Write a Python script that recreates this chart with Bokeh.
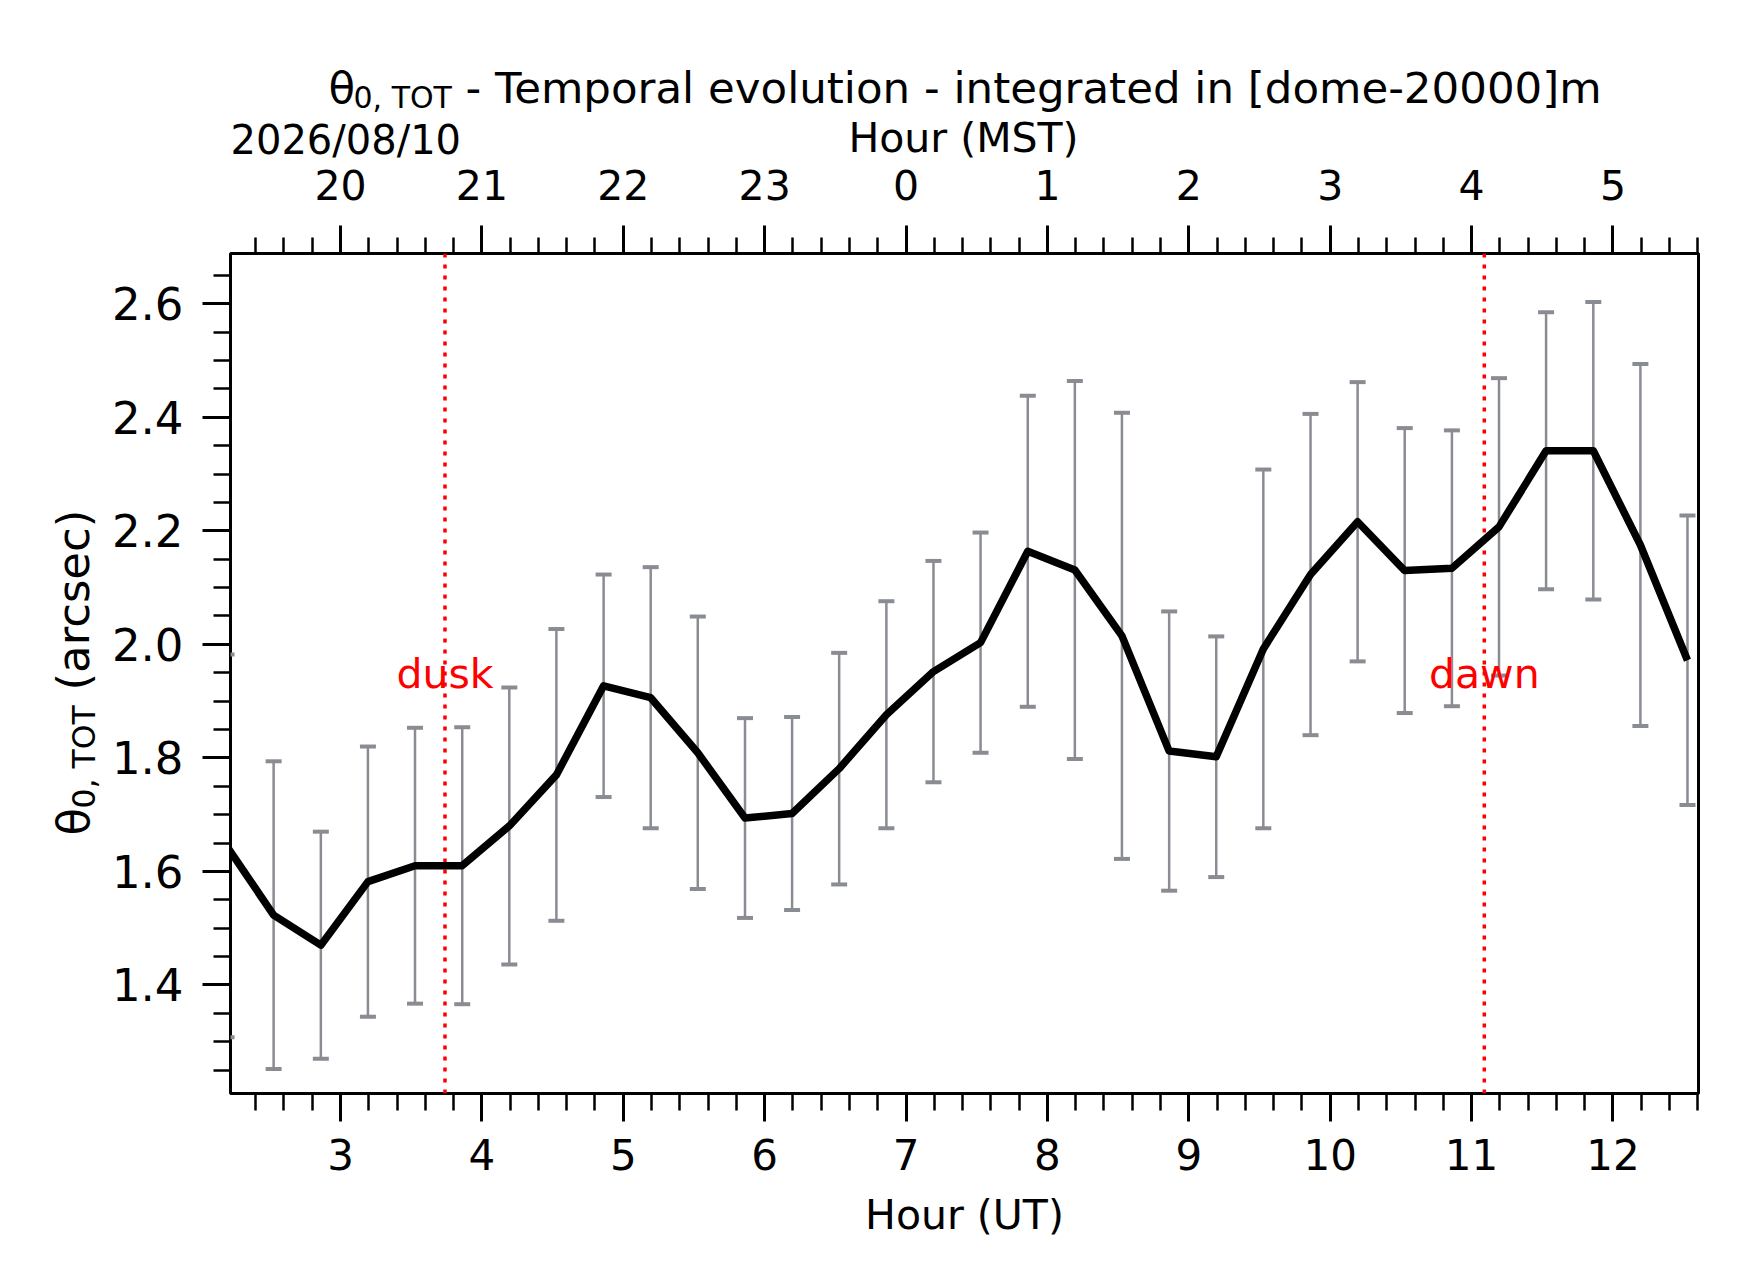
import numpy as np
from bokeh.plotting import figure
from bokeh.layouts import column, row
from bokeh.models import (ColumnDataSource, FixedTicker, LinearAxis, Range1d,
                          Span, PrintfTickFormatter)
from bokeh.embed import file_html
from bokeh.resources import INLINE
from bokeh.core.properties import value

# ---------------- data ----------------
ut_hours = [2.194, 2.527, 2.861, 3.194, 3.527, 3.861, 4.194, 4.527, 4.861, 5.194,
            5.527, 5.861, 6.194, 6.527, 6.861, 7.194, 7.527, 7.861, 8.194, 8.527,
            8.861, 9.194, 9.527, 9.861, 10.194, 10.527, 10.861, 11.194, 11.527,
            11.861, 12.194, 12.527]
theta0 = [1.645, 1.523, 1.470, 1.582, 1.610, 1.610, 1.680, 1.770, 1.927, 1.906,
          1.809, 1.694, 1.702, 1.781, 1.876, 1.952, 2.003, 2.164, 2.131, 2.015,
          1.812, 1.802, 1.992, 2.123, 2.216, 2.130, 2.134, 2.207, 2.341, 2.341,
          2.175, 1.972]
theta0_std = [0.337, 0.271, 0.200, 0.238, 0.243, 0.244, 0.244, 0.257, 0.196, 0.230,
              0.240, 0.176, 0.170, 0.204, 0.200, 0.195, 0.194, 0.274, 0.333, 0.393,
              0.246, 0.212, 0.316, 0.283, 0.246, 0.251, 0.243, 0.262, 0.244, 0.262,
              0.319, 0.255]
event_hours = [3.739, 11.09]
event_names = ["dusk", "dawn"]
ut_ticks = [3, 4, 5, 6, 7, 8, 9, 10, 11, 12]
mst_tick_labels = ["20", "21", "22", "23", "0", "1", "2", "3", "4", "5"]
y_ticks = [1.4, 1.6, 1.8, 2.0, 2.2, 2.4, 2.6]
date_text = "2026/08/10"
title_symbol = "\u03b8"
title_sub = "0, TOT"
title_main = "- Temporal evolution - integrated in [dome-20000]m"
ylabel_rest = "(arcsec)"
xlabel_bottom = "Hour (UT)"
xlabel_top = "Hour (MST)"

FONT = "DejaVu Sans"
GRAY = "#8a8c93"
RED = "#ff0000"
BASE_SHIFT = 0.33   # compensation of the text baseline placement (in em)

lower = [m - s for m, s in zip(theta0, theta0_std)]
upper = [m + s for m, s in zip(theta0, theta0_std)]
src = ColumnDataSource(dict(t=ut_hours, v=theta0, lo=lower, hi=upper))

x_minor = [round(v, 2) for v in np.arange(2.4, 12.61, 0.2) if abs(v - round(v)) > 1e-6]
y_minor = [round(v, 2) for v in np.arange(1.25, 2.70, 0.05)
           if min(abs(v - t) for t in y_ticks) > 1e-6]

# layout geometry (pixels)
TOP_H = 163
LEFT_W = 108
FR_W, FR_H = 1468, 840
B_L, B_R, B_T, B_B = 230 - LEFT_W, 36, 90, 181
P_W = B_L + FR_W + B_R

# ---------------- main plot ----------------
p = figure(frame_width=FR_W, frame_height=FR_H,
           min_border_left=B_L, min_border_right=B_R,
           min_border_top=B_T, min_border_bottom=B_B,
           x_range=Range1d(2.222, 12.605), y_range=Range1d(1.2087, 2.6886),
           output_backend="svg", toolbar_location=None,
           x_axis_location=None, y_axis_location=None)
p.xgrid.visible = False
p.ygrid.visible = False
p.outline_line_color = "black"
p.outline_line_width = 3
p.background_fill_color = "white"
p.border_fill_color = "white"


def style_axis(ax, size, standoff, minor_out):
    ax.axis_line_color = None
    ax.major_tick_in = 0
    ax.minor_tick_in = 0
    ax.major_tick_out = 28
    ax.minor_tick_out = minor_out
    ax.major_tick_line_width = 3
    ax.minor_tick_line_width = 2.5
    ax.major_tick_line_color = "black"
    ax.minor_tick_line_color = "black"
    ax.major_label_text_font = FONT
    ax.major_label_text_font_size = size
    ax.major_label_text_color = "black"
    ax.major_label_standoff = standoff


xb = LinearAxis(ticker=FixedTicker(ticks=ut_ticks, minor_ticks=x_minor),
                formatter=PrintfTickFormatter(format="%d"),
                axis_label=xlabel_bottom)
style_axis(xb, "42px", 17, 17)
xb.axis_label_text_font = FONT
xb.axis_label_text_font_size = "41px"
xb.axis_label_text_font_style = "normal"
xb.axis_label_text_color = "black"
xb.axis_label_standoff = 18
p.add_layout(xb, "below")

xt = LinearAxis(ticker=FixedTicker(ticks=ut_ticks, minor_ticks=x_minor),
                major_label_overrides={t: l for t, l in zip(ut_ticks, mst_tick_labels)})
style_axis(xt, "41px", 26, 16)
p.add_layout(xt, "above")

yl = LinearAxis(ticker=FixedTicker(ticks=y_ticks, minor_ticks=y_minor),
                formatter=PrintfTickFormatter(format="%.1f"))
style_axis(yl, "45px", 19, 17)
p.add_layout(yl, "left")

# dusk / dawn lines
for h in event_hours:
    p.add_layout(Span(location=h, dimension="height", line_color=RED,
                      line_width=3.5, line_dash="4 7", level="underlay"))

# error bars
p.segment(x0="t", y0="lo", x1="t", y1="hi", source=src, line_color=GRAY, line_width=2.5)
p.scatter(x="t", y="hi", source=src, marker="dash", size=16, line_width=4, line_color=GRAY)
p.scatter(x="t", y="lo", source=src, marker="dash", size=16, line_width=4, line_color=GRAY)

# main curve
p.line(x="t", y="v", source=src, line_color="black", line_width=7.5, line_join="round")

# dusk / dawn text
p.text(x=event_hours, y=[1.948] * len(event_hours), text=event_names,
       text_color=RED, text_font=value(FONT), text_font_size="41px",
       text_align="center", text_baseline="alphabetic")


# ---------------- text strips ----------------
def text_fig(w, fh, bt=0, bb=0):
    f = figure(frame_width=w, frame_height=fh,
               x_range=Range1d(0, w), y_range=Range1d(0, fh),
               output_backend="svg", toolbar_location=None,
               x_axis_location=None, y_axis_location=None,
               min_border_left=0, min_border_right=0,
               min_border_top=bt, min_border_bottom=bb)
    f.xgrid.visible = False
    f.ygrid.visible = False
    f.outline_line_color = None
    f.background_fill_color = "white"
    f.border_fill_color = "white"
    return f


def put(f, txt, x, y, size, align="left", rotated=False):
    if rotated:
        x = x - BASE_SHIFT * size
    else:
        y = y + BASE_SHIFT * size
    f.text(x=[x], y=[y], text=[txt], text_font=value(FONT),
           text_font_size=f"{size}px", text_color="black", text_align=align,
           text_baseline="alphabetic", angle=(np.pi / 2 if rotated else 0.0))


# top strip: y measured upward from its bottom edge
top = text_fig(LEFT_W + P_W, TOP_H)
put(top, title_symbol, 328, TOP_H - 102, 43.5)
put(top, title_sub, 353, TOP_H - 107, 30)
put(top, title_main, 465, TOP_H - 102, 43.5)
put(top, date_text, 230, TOP_H - 153, 40)
put(top, xlabel_top, 963, TOP_H - 151, 41, align="center")

# left strip: frame aligned with the main frame, y upward from frame bottom
left = text_fig(LEFT_W, FR_H, bt=B_T, bb=B_B)
FB = TOP_H + B_T + FR_H   # page y of the frame bottom
put(left, title_symbol, 88, FB - 835, 45, rotated=True)
put(left, title_sub, 93.5, FB - 808, 31.5, rotated=True)
put(left, ylabel_rest, 88, FB - 690, 45, rotated=True)

layout = column(top, row(left, p, spacing=0), spacing=0)

open("out.html", "w").write(file_html(layout, INLINE))
